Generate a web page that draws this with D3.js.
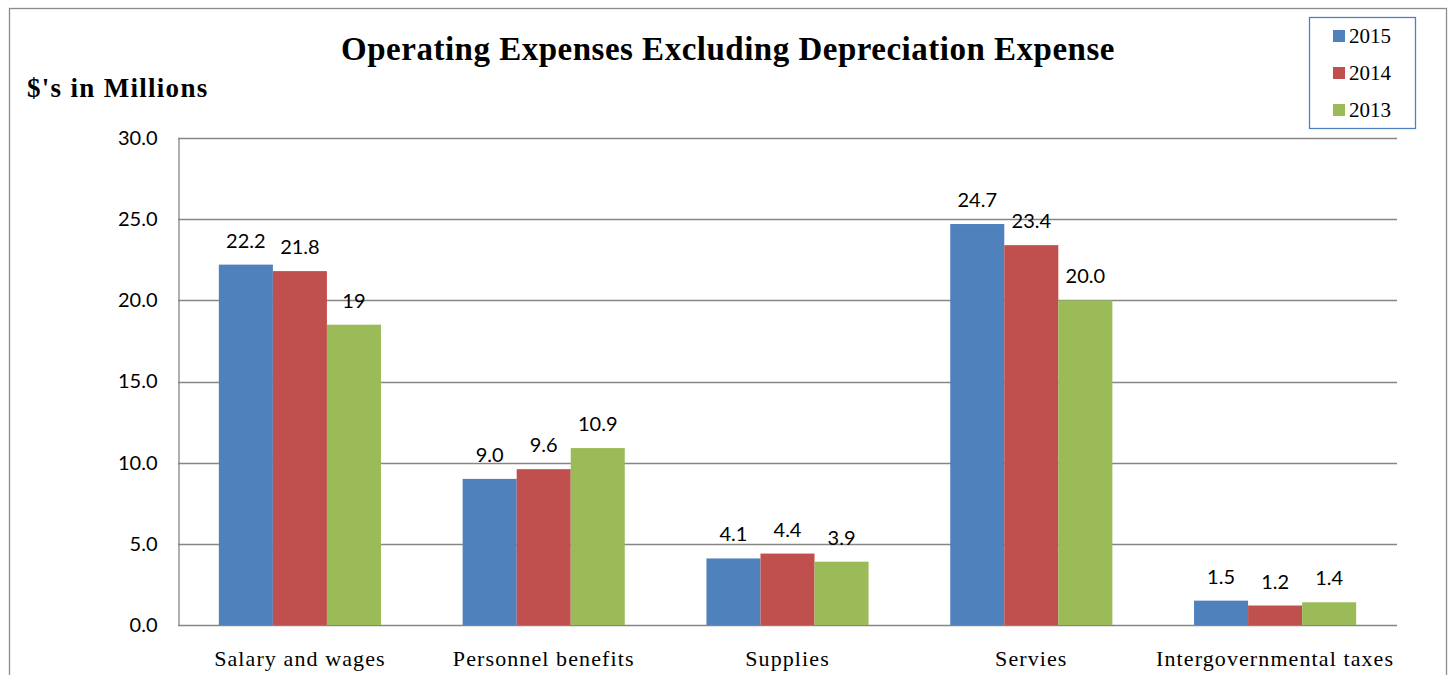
<!DOCTYPE html>
<html><head><meta charset="utf-8">
<script src="https://cdn.jsdelivr.net/npm/d3@7"></script>
<style>body{margin:0;background:#fff}</style>
</head><body>
<svg id="c" width="1452" height="675"></svg>
<script>
const categories = ["Salary and wages","Personnel benefits","Supplies","Servies","Intergovernmental taxes"];
const seriesNames = ["2015","2014","2013"];
const values2015 = [22.2, 9.0, 4.1, 24.7, 1.5];
const values2014 = [21.8, 9.6, 4.4, 23.4, 1.2];
const values2013 = [18.5, 10.9, 3.9, 20.0, 1.4];
const labels2015 = ["22.2","9.0","4.1","24.7","1.5"];
const labels2014 = ["21.8","9.6","4.4","23.4","1.2"];
const labels2013 = ["19","10.9","3.9","20.0","1.4"];
const yTicks = [0,5,10,15,20,25,30];
const colors = ["#4F81BD","#C0504D","#9BBB59"];

const series = [
  {name: seriesNames[0], values: values2015, labels: labels2015},
  {name: seriesNames[1], values: values2014, labels: labels2014},
  {name: seriesNames[2], values: values2013, labels: labels2013}
];

const svg = d3.select("#c");
const m = {left:178, right:1397, top:138, bottom:625};

// outer border
svg.append("rect").attr("x",9.5).attr("y",8.5).attr("width",1437).attr("height",700)
  .attr("fill","none").attr("stroke","#8c8c8c").attr("stroke-width",1.3);

const x0 = d3.scaleBand().domain(categories).range([m.left, m.right]).paddingInner(0.335).paddingOuter(0.1675);
const x1 = d3.scaleBand().domain(seriesNames).range([0, x0.bandwidth()]);
const y = d3.scaleLinear().domain([0,30]).range([m.bottom, m.top]);

// gridlines
svg.append("g").selectAll("line").data(yTicks).join("line")
  .attr("x1", m.left).attr("x2", m.right)
  .attr("y1", d=>Math.round(y(d))+0.5).attr("y2", d=>Math.round(y(d))+0.5)
  .attr("stroke","#868686").attr("stroke-width",1.3);

// y-axis
const yAxis = d3.axisLeft(y).tickValues(yTicks).tickFormat(d3.format(".1f")).tickSize(0).tickPadding(21);
const ya = svg.append("g").attr("transform",`translate(${m.left+0.5},0)`).call(yAxis);
ya.select(".domain").attr("stroke","#868686").attr("stroke-width",1.3);
ya.selectAll("text").attr("font-family","Lato, 'Liberation Sans', sans-serif").attr("font-size",20).attr("fill","#000");

// bars
const g = svg.append("g");
series.forEach((s,si)=>{
  g.selectAll(null).data(categories).join("rect")
    .attr("x", (c)=>x0(c)+x1(s.name))
    .attr("y", (c,i)=>y(s.values[i]))
    .attr("width", x1.bandwidth())
    .attr("height", (c,i)=>y(0)-y(s.values[i]))
    .attr("fill", colors[si]);
  g.selectAll(null).data(categories).join("text")
    .attr("x", (c)=>x0(c)+x1(s.name)+x1.bandwidth()/2)
    .attr("y", (c,i)=>y(s.values[i])-17)
    .attr("text-anchor","middle")
    .attr("font-family","Lato, 'Liberation Sans', sans-serif").attr("font-size",20)
    .attr("fill","#000")
    .text((c,i)=>s.labels[i]);
});

// x-axis labels
const xAxis = d3.axisBottom(x0).tickSize(0).tickPadding(25);
const xa = svg.append("g").attr("transform",`translate(0,${m.bottom})`).call(xAxis);
xa.select(".domain").remove();
xa.selectAll("text").attr("font-family","'Liberation Serif', serif").attr("font-size",22)
  .attr("letter-spacing",1.1).attr("fill","#000");

// title
svg.append("text").attr("x",728).attr("y",60).attr("text-anchor","middle")
  .attr("font-family","'Liberation Serif', serif").attr("font-weight","bold").attr("font-size",33)
  .attr("letter-spacing",0.5)
  .text("Operating Expenses Excluding Depreciation Expense");
svg.append("text").attr("x",27).attr("y",97)
  .attr("font-family","'Liberation Serif', serif").attr("font-weight","bold").attr("font-size",27)
  .attr("letter-spacing",1.3)
  .text("$'s in Millions");

// legend
const lg = svg.append("g");
lg.append("rect").attr("x",1309.5).attr("y",17.5).attr("width",106).attr("height",111)
  .attr("fill","#fff").attr("stroke","#4F81BD").attr("stroke-width",1.3);
const rows = lg.selectAll("g.r").data(series).join("g").attr("class","r")
  .attr("transform",(d,i)=>`translate(1333,${36+i*37})`);
rows.append("rect").attr("x",0).attr("y",-6).attr("width",12).attr("height",12).attr("fill",(d,i)=>colors[i]);
rows.append("text").attr("x",16).attr("y",7).attr("font-family","'Liberation Serif', serif").attr("font-size",21)
  .text(d=>d.name);
</script>
</body></html>
